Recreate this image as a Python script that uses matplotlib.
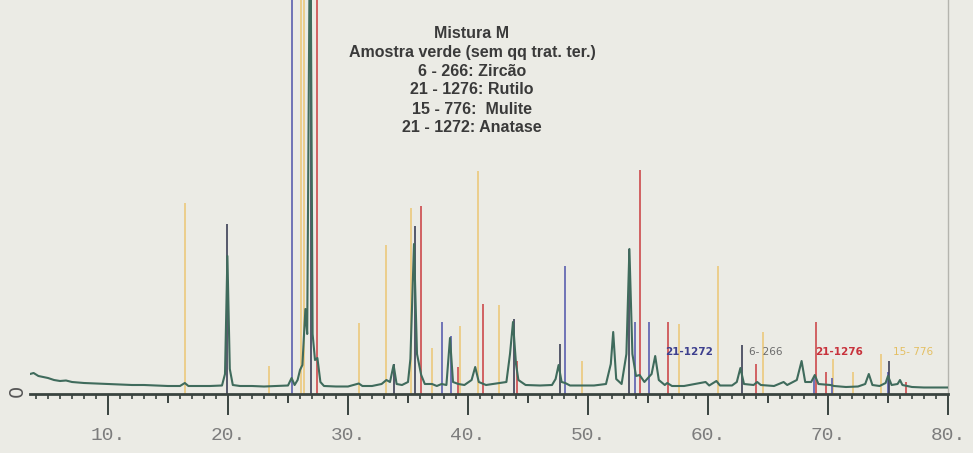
import matplotlib
matplotlib.use("Agg")
import matplotlib.pyplot as plt
from matplotlib.transforms import blended_transform_factory

# Measured diffractogram (2-theta in degrees, intensity in plot units)
two_theta = [3.5, 3.8, 4.2, 4.6, 5.0, 5.5, 6.0, 6.5, 7.0, 8.0, 9.0, 10.0, 11.0,
             12.0, 13.0, 14.0, 15.0, 16.0, 16.4, 16.7, 17.5, 18.5, 19.5, 19.75,
             19.95, 20.15, 20.4, 21.0, 22.0, 23.0, 24.0, 25.0, 25.3, 25.55, 25.8,
             26.0, 26.2, 26.45, 26.6, 26.85, 27.05, 27.25, 27.45, 27.7, 28.0,
             29.0, 30.0, 30.9, 31.2, 32.0, 32.8, 33.2, 33.5, 33.8, 34.05, 34.5,
             35.0, 35.2, 35.5, 35.75, 36.1, 36.4, 37.0, 37.4, 37.8, 38.2, 38.5,
             38.75, 39.2, 39.7, 40.3, 40.6, 40.9, 41.5, 42.6, 43.2, 43.5, 43.75,
             44.0, 44.2, 44.8, 46.0, 47.0, 47.3, 47.55, 47.8, 48.1, 48.5, 49.5,
             50.5, 51.5, 51.9, 52.1, 52.35, 52.8, 53.2, 53.45, 53.7, 54.0, 54.3,
             54.7, 55.3, 55.6, 55.9, 56.4, 56.6, 57.0, 58.0, 59.8, 60.1, 60.7,
             61.0, 62.0, 62.4, 62.7, 63.0, 63.8, 64.1, 64.4, 65.5, 66.3, 66.6,
             67.4, 67.8, 68.1, 68.6, 68.9, 69.2, 70.2, 70.5, 71.5, 72.5, 73.1,
             73.4, 73.7, 74.3, 74.8, 75.0, 75.3, 75.8, 76.0, 76.2, 77.0, 78.0,
             79.0, 80.0]
counts = [20, 21, 18, 17, 16, 14, 13, 13.5, 12, 11, 10.5, 10, 9.5,
          9, 9, 8.5, 8, 8, 11, 8, 8, 8, 8.5, 20,
          138, 25, 9, 8, 8, 7.5, 8, 8.5, 16, 9, 14,
          24, 29, 85, 60, 520, 60, 34, 36, 12, 8,
          7.5, 7.5, 10.5, 8, 8, 10, 14, 12, 29, 10, 9,
          12, 35, 150, 40, 19, 10, 10, 8, 10, 9, 56,
          12, 10, 9, 14, 27, 12, 9, 11, 12, 40, 72,
          30, 14, 9, 8.5, 9, 15, 29, 12, 11, 8.5, 8.5,
          8.5, 10, 30, 62, 15, 10, 40, 145, 40, 18, 19,
          12, 20, 38, 14, 9, 11, 8, 8, 12, 8.5, 13,
          8.5, 8.5, 12, 26, 10, 9, 12, 9, 8, 12, 9,
          14, 33, 12, 12, 19, 10, 9, 8, 7, 7.5, 10,
          20, 9, 8, 11, 18, 9, 10, 14, 9, 7, 6.5,
          6.5, 6.5]

# Reference patterns (JCPDS cards)
zircon_2theta = [19.95, 26.95, 33.8, 35.6, 43.8, 47.65, 53.45, 62.8, 75.1]
zircon_int = [170, 520, 30, 168, 75, 50, 145, 49, 33]

rutile_2theta = [27.45, 36.1, 39.2, 41.25, 44.05, 54.35, 56.65, 64.0, 69.0, 69.8, 76.5]
rutile_int = [520, 188, 27, 90, 33, 224, 72, 30, 72, 22, 12]

mullite_2theta = [16.4, 23.45, 26.05, 26.3, 30.9, 33.2, 35.25, 37.0, 39.3,
                  40.85, 42.6, 49.5, 57.6, 60.8, 64.6, 70.4, 72.1, 74.4]
mullite_int = [191, 28, 520, 520, 71, 149, 186, 46, 68,
               223, 89, 33, 70, 128, 62, 35, 22, 40]

anatase_2theta = [25.3, 37.8, 38.6, 48.05, 53.9, 55.1, 68.8, 70.3, 75.0]
anatase_int = [520, 72, 58, 128, 72, 72, 18, 16, 22]

x_ticks = [10, 20, 30, 40, 50, 60, 70, 80]
x_tick_labels = ["10.", "20.", "30.", "40.", "50.", "60.", "70.", "80."]
x_mid_ticks = [15, 25, 35, 45, 55, 65, 75]

title_lines = ["Mistura M",
               "Amostra verde (sem qq trat. ter.)",
               "6 - 266: Zircão",
               "21 - 1276: Rutilo",
               "15 - 776:  Mulite",
               "21 - 1272: Anatase"]

card_labels = ["21-1272", "6- 266", "21-1276", "15- 776"]
card_label_x = [56.4, 63.4, 68.95, 75.4]

bg = "#ebebe5"
c_trace = "#3f6b5c"
c_zircon = "#3b3f56"
c_rutile = "#cc4a4c"
c_mullite = "#ecc97c"
c_anatase = "#5a5fae"
c_axis = "#3a4440"

fig = plt.figure(figsize=(9.73, 4.53), dpi=100, facecolor=bg)
ax = fig.add_axes([30 / 973, (453 - 394) / 453, 918 / 973, 394 / 453])
ax.set_facecolor(bg)
ax.set_xlim(3.5, 80)
ax.set_ylim(0, 394)

ax.vlines(mullite_2theta, 0, mullite_int, colors=c_mullite, lw=1.2, zorder=2)
ax.vlines(anatase_2theta, 0, anatase_int, colors=c_anatase, lw=1.2, zorder=2)
ax.vlines(rutile_2theta, 0, rutile_int, colors=c_rutile, lw=1.2, zorder=2)
ax.vlines(zircon_2theta, 0, zircon_int, colors=c_zircon, lw=1.2, zorder=2)

ax.plot(two_theta, counts, color=c_trace, lw=1.5, zorder=3, solid_joinstyle="round")

# Axes frame: only the 2-theta axis and a faint right border
for side in ("top", "left"):
    ax.spines[side].set_visible(False)
ax.spines["bottom"].set_color(c_axis)
ax.spines["bottom"].set_linewidth(2)
ax.spines["right"].set_color("#b4b4ae")
ax.spines["right"].set_linewidth(1)

ax.set_yticks([])
ax.set_xticks(x_ticks, labels=x_tick_labels)
ax.set_xticks(range(4, 81), minor=True)
ax.tick_params(axis="x", which="major", length=15, width=1.4, color=c_axis,
               pad=9, labelsize=14, labelcolor="#7c7c7c")
ax.tick_params(axis="x", which="minor", length=3.5, width=1.2, color=c_axis)
for lab in ax.get_xticklabels():
    lab.set_fontfamily("Liberation Mono")

# Intermediate ticks every 5 degrees
tr = blended_transform_factory(ax.transData, ax.transAxes)
ax.vlines(x_mid_ticks, -0.023, 0, transform=tr, colors=c_axis, lw=1.4,
          clip_on=False, zorder=4)

# Zero mark at the start of the axis
ax.text(2.4, 3, "0", rotation=90, ha="center", va="center", fontsize=14,
        family="DejaVu Sans", color="#555555", clip_on=False)

# Header block
for i, line in enumerate(title_lines):
    fig.text(472 / 973, 1 - (33 + 19 * i) / 453, line, ha="center", va="center",
             fontsize=11.5, fontweight="bold", family="Liberation Sans",
             color="#3a3a3a")

# Card identifiers next to the peaks
label_colors = ["#3d3f8e", "#6a6a6a", "#c8323c", "#e4bf62"]
label_weights = ["bold", "normal", "bold", "normal"]
for x, t, c, w in zip(card_label_x, card_labels, label_colors, label_weights):
    ax.text(x, 42, t, ha="left", va="center", fontsize=7.5, color=c,
            family="DejaVu Sans", fontweight=w)

fig.savefig("out.png", dpi=100, facecolor=bg)
